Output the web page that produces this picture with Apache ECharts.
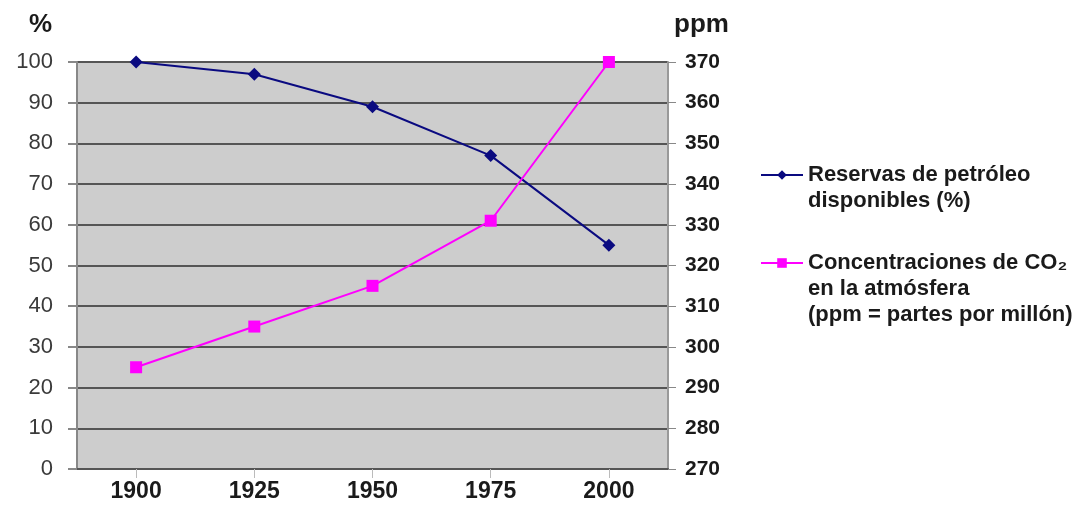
<!DOCTYPE html>
<html>
<head>
<meta charset="utf-8">
<script src="https://cdn.jsdelivr.net/npm/echarts@6/dist/echarts.min.js"></script>
<style>
html,body{margin:0;padding:0;background:#fff;}
#chart{width:1079px;height:506px;}
</style>
</head>
<body>
<div id="chart"></div>
<script>
const years = ['1900', '1925', '1950', '1975', '2000'];
const oilReserves = [100, 97, 89, 77, 55];
const co2ppm = [295, 305, 315, 331, 370];
const leftTicks = { min: 0, max: 100, interval: 10 };
const rightTicks = { min: 270, max: 370, interval: 10 };
const oilName = 'Reservas de petróleo\ndisponibles (%)';
const co2Name = 'Concentraciones de CO₂\nen la atmósfera\n(ppm = partes por millón)';

const chart = echarts.init(document.getElementById('chart'));
const font = 'Liberation Sans, Arial, sans-serif';
const LH = 26;
function legendFormatter(name) {
  const lines = name.split('\n');
  const pad = new Array(lines.length - 1).fill(' ').join('\n');
  return pad + '\n' + name;
}
const legendCommon = {
  orient: 'vertical',
  left: 755,
  itemWidth: 42,
  itemHeight: 12,
  textStyle: { fontSize: 22, fontWeight: 'bold', color: '#1a1a1a', lineHeight: LH, fontFamily: font },
  formatter: legendFormatter
};
chart.setOption({
  animation: false,
  backgroundColor: '#ffffff',
  textStyle: { fontFamily: font },
  grid: {
    left: 77, right: 411, top: 62, bottom: 37,
    show: true, backgroundColor: '#cdcdcd', borderWidth: 0
  },
  legend: [
    Object.assign({}, legendCommon, { top: 170 - LH * 1.5, data: [oilName] }),
    Object.assign({}, legendCommon, { top: 258 - LH * 2.5, data: [co2Name] })
  ],
  xAxis: {
    type: 'category',
    data: years,
    boundaryGap: true,
    axisLine: { show: true, lineStyle: { color: '#555', width: 2 } },
    axisTick: { show: true, alignWithLabel: true, length: 9, lineStyle: { color: '#bbb', width: 1 } },
    axisLabel: { fontSize: 23, fontWeight: 'bold', color: '#1a1a1a', margin: 11, fontFamily: font }
  },
  yAxis: [
    {
      type: 'value',
      name: '%',
      nameLocation: 'end',
      nameGap: 24,
      nameTextStyle: { fontSize: 26, fontWeight: 'bold', color: '#1a1a1a', align: 'right', padding: [0, 25, 0, 0], fontFamily: font },
      min: leftTicks.min, max: leftTicks.max, interval: leftTicks.interval,
      position: 'left',
      axisLine: { show: true, lineStyle: { color: '#888', width: 2 } },
      axisTick: { show: true, length: 9, lineStyle: { color: '#888', width: 2 } },
      axisLabel: { fontSize: 22, color: '#3a3a3a', margin: 24, fontFamily: font },
      splitLine: { show: true, lineStyle: { color: '#555', width: 2 } }
    },
    {
      type: 'value',
      name: 'ppm',
      nameLocation: 'end',
      nameGap: 24,
      nameTextStyle: { fontSize: 26, fontWeight: 'bold', color: '#1a1a1a', align: 'left', padding: [0, 0, 0, 6], fontFamily: font },
      min: rightTicks.min, max: rightTicks.max, interval: rightTicks.interval,
      position: 'right',
      axisLine: { show: true, lineStyle: { color: '#999', width: 2 } },
      axisTick: { show: true, length: 8, lineStyle: { color: '#888', width: 1 } },
      axisLabel: { fontSize: 21, color: '#1a1a1a', fontWeight: 'bold', margin: 17, fontFamily: font },
      splitLine: { show: false }
    }
  ],
  series: [
    {
      name: oilName,
      type: 'line',
      yAxisIndex: 0,
      data: oilReserves,
      symbol: 'diamond',
      symbolSize: 13,
      lineStyle: { color: '#0a0a80', width: 2 },
      itemStyle: { color: '#0a0a80' }
    },
    {
      name: co2Name,
      type: 'line',
      yAxisIndex: 1,
      data: co2ppm,
      symbol: 'rect',
      symbolSize: 12,
      lineStyle: { color: '#ff00ff', width: 2 },
      itemStyle: { color: '#ff00ff' }
    }
  ]
});
</script>
</body>
</html>
